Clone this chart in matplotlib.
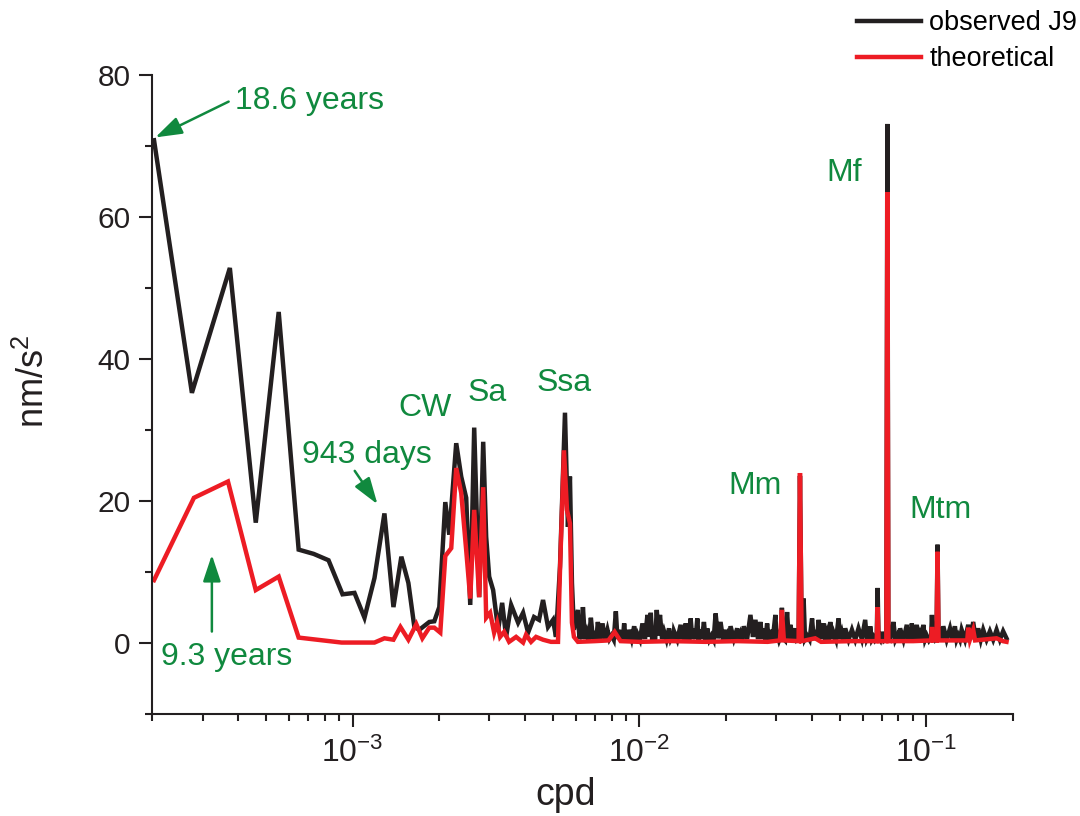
import matplotlib
matplotlib.use("Agg")
import matplotlib.pyplot as plt
from matplotlib.ticker import LogLocator, MultipleLocator, NullFormatter

plt.rcParams['font.family'] = ['Liberation Sans', 'DejaVu Sans']
plt.rcParams['mathtext.fontset'] = 'custom'
plt.rcParams['mathtext.rm'] = 'Liberation Sans'
plt.rcParams['mathtext.it'] = 'Liberation Sans:italic'

# ---------------- data (frequency in 1e-3 cpd, amplitude in nm/s^2) ----------------
obs_low_freq_mcpd = [
    0.2033, 0.2755, 0.3736, 0.460, 0.553, 0.649, 0.732, 0.825, 0.923, 1.016,
    1.101, 1.193, 1.292, 1.389, 1.480, 1.566, 1.643, 1.710, 1.852, 1.928,
    2.007, 2.106, 2.174, 2.299, 2.393, 2.491, 2.573, 2.656, 2.764, 2.855,
    2.924, 2.995, 3.092, 3.219, 3.324, 3.432, 3.573, 3.778, 3.932, 4.093,
    4.294, 4.469, 4.615, 4.803, 5.000, 5.121, 5.288, 5.504, 5.637, 5.728,
    5.821, 5.915,
]
obs_low_amp = [
    70.8, 35.2, 52.8, 16.9, 46.6, 13.1, 12.5, 11.6, 6.8, 7.0,
    3.5, 9.1, 18.2, 5.0, 12.1, 8.4, 2.2, 1.8, 2.9, 3.0,
    5.0, 19.8, 15.2, 28.1, 23.4, 20.4, 5.3, 30.3, 6.4, 28.3,
    14.9, 9.3, 7.4, 1.8, 5.6, 0.8, 5.3, 2.8, 4.2, 1.4,
    3.6, 3.2, 6.0, 2.2, 3.2, 0.8, 10.7, 32.4, 16.3, 23.4,
    8.4, 1.8,
]
obs_high_freq_mcpd = [
    6.107, 6.18, 6.256, 6.30, 6.357, 6.46, 6.563, 6.67, 6.776, 6.89,
    6.997, 7.08, 7.166, 7.30, 7.44, 7.59, 7.74, 7.87, 8.00, 8.14,
    8.28, 8.39, 8.50, 8.58, 8.67, 8.76, 8.85, 8.95, 9.04, 9.12,
    9.21, 9.40, 9.59, 9.72, 9.85, 10.05, 10.25, 10.46, 10.67, 10.82,
    10.96, 11.08, 11.19, 11.35, 11.50, 11.65, 11.80, 12.00, 12.19, 12.44,
    12.69, 12.86, 13.03, 13.12, 13.20, 13.56, 13.93, 14.08, 14.23, 14.36,
    14.50, 14.63, 14.77, 14.93, 15.09, 15.30, 15.50, 15.71, 15.92, 16.09,
    16.26, 16.52, 16.79, 17.02, 17.25, 17.55, 17.86, 18.15, 18.44, 18.81,
    19.19, 19.58, 19.97, 20.15, 20.34, 20.56, 20.79, 21.35, 21.93, 22.22,
    22.52, 22.82, 23.12, 23.75, 24.39, 24.89, 25.39, 25.91, 26.43, 26.78,
    27.14, 27.51, 27.88, 28.25, 28.63, 28.94, 29.26, 29.80, 30.08, 30.36,
    30.69, 31.02, 31.20, 31.40, 31.55, 31.70, 32.20, 32.73, 33.17, 33.61,
    34.29, 34.99, 35.45, 35.90, 36.30, 36.80, 37.00, 37.38, 37.80, 38.41,
    39.20, 40.00, 40.53, 41.07, 41.61, 42.16, 43.00, 43.87, 44.47, 45.08,
    45.68, 46.29, 46.90, 47.53, 48.49, 49.47, 50.15, 50.84, 51.52, 52.20,
    53.62, 55.08, 56.56, 58.06, 59.64, 61.26, 62.08, 62.91, 63.34, 63.77,
    64.62, 65.48, 66.30, 67.20, 67.70, 68.20, 69.10, 70.02, 71.30, 72.60,
    73.20, 73.80, 74.83, 75.88, 76.85, 78.09, 79.35, 80.21, 81.09, 83.30,
    85.56, 86.70, 87.85, 88.45, 89.05, 90.85, 92.69, 93.91, 95.15, 96.42,
    97.70, 99.04, 100.4, 102.2, 104.0, 104.7, 105.5, 107.0, 108.6, 109.5,
    110.4, 111.7, 113.2, 114.7, 117.8, 121.0, 123.4, 125.9, 127.6, 129.3,
    131.1, 132.9, 136.5, 140.1, 142.9, 145.8, 148.8, 151.8, 154.9, 158.0,
    162.3, 166.7, 171.2, 175.9, 180.6, 185.4, 190.5,
]
obs_high_amp = [
    4.6, 0.5, 1.4, 0.5, 5.0, 0.5, 1.5, 0.4, 3.5, 0.5,
    1.6, 0.4, 2.9, 0.5, 2.7, 0.4, 1.8, 0.5, 1.0, 0.4,
    4.4, 0.5, 1.8, 0.4, 1.2, 0.4, 2.7, 0.5, 1.4, 0.4,
    1.8, 0.5, 2.3, 0.4, 1.2, 0.4, 2.7, 0.5, 3.9, 0.8,
    4.2, 0.4, 1.0, 0.4, 4.6, 1.0, 3.9, 0.5, 1.6, 0.4,
    2.0, 0.5, 1.0, 0.4, 1.6, 0.4, 2.5, 0.5, 1.0, 0.4,
    2.7, 0.4, 1.0, 0.4, 3.4, 0.5, 2.0, 0.5, 3.4, 0.4,
    1.8, 0.5, 2.9, 0.4, 2.0, 0.4, 1.0, 0.4, 4.1, 0.6,
    2.9, 0.4, 1.8, 0.4, 1.0, 0.4, 2.3, 0.5, 2.0, 0.4,
    1.2, 0.4, 2.3, 0.5, 3.9, 0.8, 3.2, 0.5, 2.9, 0.5,
    2.0, 0.4, 2.7, 0.4, 1.8, 0.4, 1.0, 3.9, 0.4, 1.0,
    0.3, 0.8, 0.3, 4.9, 0.3, 0.6, 0.3, 4.3, 0.5, 2.5,
    0.4, 2.0, 0.4, 0.6, 23.5, 0.8, 0.5, 6.2, 0.5, 1.0,
    0.4, 3.4, 0.4, 1.0, 0.4, 3.2, 0.5, 2.7, 0.4, 1.4,
    0.4, 2.9, 0.5, 1.4, 0.4, 3.4, 0.5, 1.4, 0.4, 2.0,
    0.4, 1.8, 0.4, 2.0, 0.5, 3.2, 0.5, 1.0, 0.4, 2.3,
    0.4, 0.8, 0.3, 0.6, 7.7, 0.6, 0.3, 1.5, 0.3, 0.6,
    73.1, 0.6, 0.4, 1.5, 2.9, 0.4, 1.0, 0.4, 2.0, 0.4,
    2.5, 0.4, 1.2, 0.4, 2.7, 0.5, 2.5, 0.4, 1.2, 0.4,
    2.5, 0.4, 1.0, 0.3, 0.8, 3.9, 0.6, 0.3, 0.6, 13.8,
    0.6, 1.2, 0.4, 2.3, 0.4, 2.0, 0.4, 2.3, 0.4, 1.0,
    0.4, 1.8, 0.4, 2.5, 0.5, 2.9, 0.4, 2.0, 0.4, 1.8,
    0.4, 1.6, 0.4, 1.8, 0.4, 1.6, 0.6,
]

theo_freq_mcpd = [
    0.2033, 0.280, 0.368, 0.460, 0.553, 0.649, 0.916, 1.193, 1.292, 1.389,
    1.469, 1.566, 1.669, 1.752, 1.852, 1.928, 2.023, 2.106, 2.209, 2.299,
    2.393, 2.491, 2.573, 2.656, 2.764, 2.855, 2.924, 3.019, 3.117, 3.193,
    3.270, 3.377, 3.515, 3.718, 3.932, 4.027, 4.192, 4.364, 4.615, 4.920,
    5.204, 5.288, 5.460, 5.593, 5.728, 5.821, 5.915, 6.107, 7.0, 7.8,
    8.2, 8.6, 10.0, 13.0, 17.0, 22.0, 28.0, 30.9, 31.4, 31.9,
    35.9, 36.3, 36.8, 41.0, 43.0, 55.0, 67.2, 67.7, 68.2, 72.6,
    73.2, 73.8, 90.0, 104.0, 104.7, 105.5, 108.6, 109.5, 110.4, 139.0,
    140.1, 142.0, 145.8, 148.0, 175.9, 185.0, 190.5,
]
theo_amp = [
    8.8, 20.4, 22.7, 7.4, 9.3, 0.7, 0.0, 0.0, 0.6, 0.4,
    2.2, 0.4, 2.6, 0.6, 2.1, 2.1, 1.4, 12.2, 13.3, 24.6,
    21.1, 13.0, 6.2, 18.7, 6.4, 21.9, 3.5, 4.2, 1.4, 2.8,
    0.8, 1.5, 0.1, 0.8, 0.0, 1.1, 0.1, 0.8, 0.4, 0.1,
    0.1, 10.2, 27.1, 18.7, 16.8, 2.8, 0.8, 0.1, 0.2, 0.3,
    1.5, 0.2, 0.1, 0.2, 0.1, 0.2, 0.1, 0.3, 4.6, 0.3,
    0.2, 23.9, 0.2, 0.6, 0.1, 0.2, 0.2, 5.0, 0.2, 0.2,
    63.5, 0.2, 0.2, 0.3, 2.2, 0.3, 0.3, 12.8, 0.3, 0.3,
    2.1, 0.4, 1.8, 0.3, 0.6, 0.2, 0.1,
]

series_labels = ["observed J9", "theoretical"]
y_ticks = [0, 20, 40, 60, 80]

peak_labels = [
    ("CW", 1.794e-3, 33.1),
    ("Sa", 2.954e-3, 35.2),
    ("Ssa", 5.474e-3, 36.6),
    ("Mm", 25.33e-3, 22.1),
    ("Mf", 51.8e-3, 66.2),
    ("Mtm", 0.1117, 18.7),
]

obs_freq = [f * 1e-3 for f in obs_low_freq_mcpd + obs_high_freq_mcpd]
obs_amp = obs_low_amp + obs_high_amp
theo_freq = [f * 1e-3 for f in theo_freq_mcpd]

BLACK = '#231f20'
RED = '#ed1c24'
GREEN = '#10893e'

fig = plt.figure(figsize=(10.8, 8.16), dpi=100)
ax = fig.add_axes([152 / 1080, 1 - 713.5 / 816, (1012.7 - 152) / 1080, (713.5 - 75) / 816])

l1, = ax.plot(obs_freq, obs_amp, color=BLACK, lw=3.2, solid_joinstyle='miter', label=series_labels[0])
l2, = ax.plot(theo_freq, theo_amp, color=RED, lw=3.2, solid_joinstyle='miter', label=series_labels[1])

ax.set_xscale('log')
ax.set_xlim(2.0e-4, 0.2002)
ax.set_ylim(-10, 80)

ax.set_yticks(y_ticks)
ax.yaxis.set_minor_locator(MultipleLocator(10))
ax.xaxis.set_major_locator(LogLocator(base=10, numticks=10))
ax.xaxis.set_minor_locator(LogLocator(base=10, subs=range(2, 10), numticks=20))
ax.xaxis.set_minor_formatter(NullFormatter())

for s in ['top', 'right']:
    ax.spines[s].set_visible(False)
for s in ['left', 'bottom']:
    ax.spines[s].set_linewidth(1.5)
    ax.spines[s].set_color(BLACK)

ax.tick_params(axis='both', which='major', direction='out', length=9.5, width=1.5,
               colors=BLACK)
ax.tick_params(axis='y', which='major', labelsize=21.5, pad=6)
ax.tick_params(axis='x', which='major', labelsize=23, pad=8)
ax.tick_params(axis='both', which='minor', direction='out', length=5, width=1.5, colors=BLACK)

ax.set_xlabel('cpd', fontsize=27, color=BLACK)
ax.xaxis.set_label_coords(0.481, -0.099)
ax.set_ylabel(r'nm/s$^\mathregular{2}$', fontsize=26, color=BLACK)
ax.yaxis.set_label_coords(-0.116, 0.521)

for txt, x, y in peak_labels:
    ax.text(x, y, txt, fontsize=23, color=GREEN, ha='center', va='center')

arrow_kw = dict(arrowstyle='-|>,head_length=0.6,head_width=0.2', color=GREEN, lw=1.8,
                mutation_scale=27, shrinkA=0, shrinkB=0)
ax.annotate('', xy=(2.054e-4, 71.2), xytext=(3.70e-4, 76.25), arrowprops=arrow_kw)
ax.text(3.887e-4, 76.3, '18.6 years', fontsize=23, color=GREEN, ha='left', va='center')

ax.annotate('', xy=(3.234e-4, 12.36), xytext=(3.234e-4, 1.55), arrowprops=arrow_kw)
ax.text(2.156e-4, -2.0, '9.3 years', fontsize=23, color=GREEN, ha='left', va='center')

ax.annotate('', xy=(1.222e-3, 19.5), xytext=(1.018e-3, 24.2), arrowprops=arrow_kw)
ax.text(6.65e-4, 26.5, '943 days', fontsize=23, color=GREEN, ha='left', va='center')

fig.legend(handles=[l1, l2], loc='upper right', bbox_to_anchor=(1077 / 1080, 1 - 10 / 816),
           frameon=False, fontsize=19.5, handlelength=2.35, handletextpad=0.3,
           labelspacing=0.38, borderpad=0, borderaxespad=0)

fig.savefig('out.png', dpi=100)
